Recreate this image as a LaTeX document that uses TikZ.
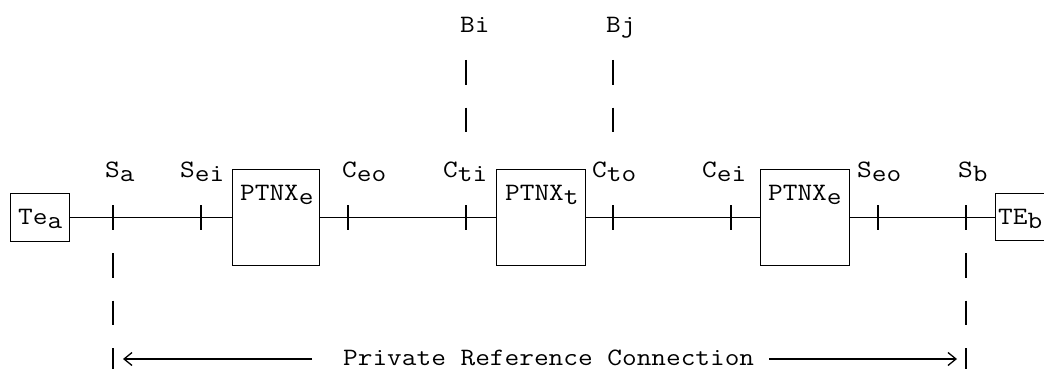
\documentclass[tikz,border=0pt]{standalone}
\usepackage{fontspec}
\newfontfamily\asciifont[FakeStretch=1.14]{Latin Modern Mono}
\usepackage{tikz}
\usetikzlibrary{arrows.meta,positioning,calc}
% lowered index letters, as in the plain-text figure
\newcommand{\lowsub}[1]{\raisebox{-0.17em}{#1}}

\begin{document}
\begin{tikzpicture}[x=1pt,y=-1pt,
    wire/.style={line width=1.3pt},
    unit/.style={draw, line width=1.3pt, inner sep=0pt, anchor=north west},
    txt/.style={font=\asciifont\fontsize{25pt}{28pt}\selectfont, inner sep=0pt, anchor=base west},
    refmark/.style={line width=1.3pt},
    vbar/.style={line width=1.3pt, dash pattern=on 24.5pt off 23pt}]
  \useasboundingbox (0,0) rectangle (1044,369);
  % Terminals and exchanges
  \node[unit, minimum width=59pt, minimum height=48pt] (tea) at (10,193) {};
  \node[unit, minimum width=87pt, minimum height=96pt] (pxe1) at (232,169) {};
  \node[unit, minimum width=89pt, minimum height=96pt] (pxt) at (496,169) {};
  \node[unit, minimum width=89pt, minimum height=96pt] (pxe2) at (760,169) {};
  \node[unit, minimum width=70pt, minimum height=47pt] (teb) at (995,193) {};
  % Box texts
  \node[txt] (tea-t) at (18,224) {Te\lowsub{a}};
  \node[txt] (pxe1-t) at (240,200) {PTNX\lowsub{e}};
  \node[txt] (pxt-t) at (505,200) {PTNX\lowsub{t}};
  \node[txt] (pxe2-t) at (768,200) {PTNX\lowsub{e}};
  \node[txt] (teb-t) at (998,224) {TE\lowsub{b}};
  % Main line
  \draw[wire] (tea.east) -- (pxe1.west);
  \draw[wire] (pxe1.east) -- (pxt.west);
  \draw[wire] (pxt.east) -- (pxe2.west);
  \draw[wire] (pxe2.east) -- (pxe2.east -| teb.west);
  % Reference points on the line
  \foreach \nm/\xx in {sa/113, sei/201, ceo/348, cti/466, cto/613, cei/731, seo/878, sb/966}
    {\coordinate (\nm) at (\xx,217);
     \draw[refmark] (\nm) ++(0,-12) -- ++(0,25);}
  \node[txt] (sa-l) at (105,177) {S\lowsub{a}};
  \node[txt] (sei-l) at (180,177) {S\lowsub{ei}};
  \node[txt] (ceo-l) at (342,177) {C\lowsub{eo}};
  \node[txt] (cti-l) at (443,177) {C\lowsub{ti}};
  \node[txt] (cto-l) at (592,177) {C\lowsub{to}};
  \node[txt] (cei-l) at (702,177) {C\lowsub{ei}};
  \node[txt] (seo-l) at (857,177) {S\lowsub{eo}};
  \node[txt] (sb-l) at (958,177) {S\lowsub{b}};
  % B reference points
  \node[txt] (bi) at (460,33) {Bi};
  \node[txt] (bj) at (606,33) {Bj};
  \draw[vbar] (cti) ++(0,-157) -- ++(0,73);
  \draw[vbar] (cto) ++(0,-157) -- ++(0,73);
  % Private reference connection
  \draw[vbar] (sa) ++(0,36) -- ++(0,125);
  \draw[vbar] (sb) ++(0,36) -- ++(0,125);
  \node[txt] (prc) at (343,365) {Private Reference Connection};
  \coordinate (la) at (123,359);
  \coordinate (ra) at (957,359);
  \draw[wire, -{Straight Barb[length=8pt,width=13pt]}] (prc.base west) ++(-31,-6) -- (la);
  \draw[wire, -{Straight Barb[length=8pt,width=13pt]}] (prc.base east) ++(15,-6) -- (ra);
\end{tikzpicture}
\end{document}
